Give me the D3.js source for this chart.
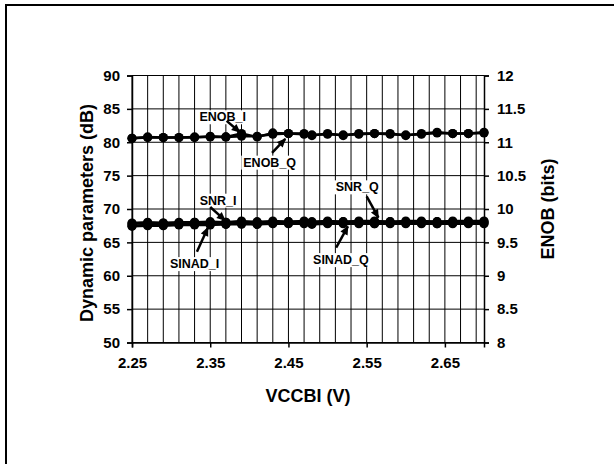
<!DOCTYPE html>
<html>
<head>
<meta charset="utf-8">
<script src="https://cdn.jsdelivr.net/npm/d3@7"></script>
<style>
  body { margin: 0; background: #fff; }
  text { font-family: Arial, "Liberation Sans", sans-serif; font-weight: bold; fill: #000; }
</style>
</head>
<body>
<div id="chart"></div>
<script>
// VCCBI sweep (V)
const vccbi = [2.25, 2.27, 2.29, 2.31, 2.33, 2.35, 2.37, 2.39, 2.41, 2.43, 2.45, 2.47,
               2.48, 2.50, 2.52, 2.54, 2.56, 2.58, 2.60, 2.62, 2.64, 2.66, 2.68, 2.70];

// dB series (left axis)
const snrI   = [67.9, 68.0, 67.9, 68.0, 68.0, 68.1, 68.0, 68.2, 68.0, 68.2, 68.1, 68.2,
                68.1, 68.2, 68.1, 68.2, 68.2, 68.1, 68.2, 68.2, 68.1, 68.2, 68.2, 68.2];
const sinadI = [67.5, 67.6, 67.6, 67.7, 67.7, 67.8, 67.7, 67.9, 67.7, 67.9, 67.9, 67.9,
                67.8, 67.9, 67.9, 67.9, 67.8, 67.9, 67.9, 67.9, 67.8, 67.9, 67.9, 67.9];
const snrQ   = [67.8, 67.9, 67.9, 67.9, 68.0, 68.0, 68.0, 68.0, 68.1, 68.0, 68.1, 68.1,
                68.0, 68.1, 68.1, 68.1, 68.1, 68.1, 68.0, 68.1, 68.1, 68.1, 68.1, 68.1];
const sinadQ = [67.4, 67.5, 67.5, 67.6, 67.6, 67.6, 67.7, 67.7, 67.7, 67.8, 67.8, 67.8,
                67.7, 67.8, 67.8, 67.8, 67.8, 67.8, 67.8, 67.8, 67.8, 67.8, 67.8, 67.8];

// ENOB series (right axis, bits)
const enobI  = [11.06, 11.08, 11.07, 11.07, 11.07, 11.09, 11.08, 11.13, 11.08, 11.14, 11.13, 11.13,
                11.10, 11.13, 11.10, 11.13, 11.13, 11.13, 11.10, 11.13, 11.15, 11.13, 11.13, 11.15];
const enobQ  = [11.06, 11.07, 11.07, 11.07, 11.08, 11.08, 11.08, 11.09, 11.09, 11.12, 11.13, 11.12,
                11.11, 11.12, 11.11, 11.12, 11.13, 11.12, 11.11, 11.12, 11.14, 11.13, 11.13, 11.14];

const xTicks = [2.25, 2.35, 2.45, 2.55, 2.65];
const yLeftTicks = [50, 55, 60, 65, 70, 75, 80, 85, 90];
const yRightTicks = [8, 8.5, 9, 9.5, 10, 10.5, 11, 11.5, 12];

// annotation labels: text position and arrow (in data units, left axis)
const labels = [
  { text: 'ENOB_I',  tx: 2.366, ty: 83.8, x1: 2.371, y1: 83.2, x2: 2.388, y2: 81.5 },
  { text: 'ENOB_Q',  tx: 2.426, ty: 77.0, x1: 2.429, y1: 78.4, x2: 2.446, y2: 80.5 },
  { text: 'SNR_I',   tx: 2.360, ty: 71.3, x1: 2.350, y1: 70.3, x2: 2.369, y2: 68.3 },
  { text: 'SINAD_I', tx: 2.330, ty: 61.8, x1: 2.333, y1: 63.6, x2: 2.347, y2: 67.2 },
  { text: 'SNR_Q',   tx: 2.538, ty: 73.3, x1: 2.550, y1: 71.9, x2: 2.565, y2: 68.7 },
  { text: 'SINAD_Q', tx: 2.517, ty: 62.4, x1: 2.511, y1: 64.2, x2: 2.526, y2: 67.4 }
];

const width = 614, height = 464;
const svg = d3.select('#chart').append('svg')
    .attr('width', width)
    .attr('height', height);

// outer frame (only top and left are visible)
svg.append('path')
    .attr('d', `M6,${height} L6,5 L${width},5`)
    .attr('fill', 'none')
    .attr('stroke', '#000')
    .attr('stroke-width', 2);

// title, sitting above the visible area (only descenders show)
svg.append('text')
    .attr('x', 320)
    .attr('y', -3.5)
    .attr('text-anchor', 'middle')
    .style('font-size', '15px')
    .text('Dynamic Range vs Analog Supply VCCBI (V)');

const x = d3.scaleLinear().domain([2.25, 2.70]).range([132, 484]);
const yL = d3.scaleLinear().domain([50, 90]).range([342.5, 75.5]);
const yR = d3.scaleLinear().domain([8, 12]).range([342.5, 75.5]);

const g = svg.append('g');

// vertical grid every 0.02 V
const vGrid = d3.range(0, 23).map(i => 2.25 + i * 0.02);
g.selectAll('.vgrid')
    .data(vGrid)
    .enter().append('line')
    .attr('class', 'vgrid')
    .attr('x1', d => x(d)).attr('x2', d => x(d))
    .attr('y1', yL(90)).attr('y2', yL(50))
    .attr('stroke', '#000')
    .attr('stroke-width', 1);

// horizontal grid
g.selectAll('.hgrid')
    .data(yLeftTicks)
    .enter().append('line')
    .attr('class', 'hgrid')
    .attr('x1', x(2.25)).attr('x2', x(2.70))
    .attr('y1', d => yL(d)).attr('y2', d => yL(d))
    .attr('stroke', '#000')
    .attr('stroke-width', 1);

// axes
const tickFont = '15px';
const xAxis = g.append('g')
    .attr('transform', `translate(0,${yL(50)})`)
    .call(d3.axisBottom(x).tickValues(xTicks).tickFormat(d3.format('.2f')).tickSize(5).tickPadding(10));
const leftAxis = g.append('g')
    .attr('transform', `translate(${x(2.25)},0)`)
    .call(d3.axisLeft(yL).tickValues(yLeftTicks).tickSize(5).tickPadding(7));
const rightAxis = g.append('g')
    .attr('transform', `translate(${x(2.70)},0)`)
    .call(d3.axisRight(yR).tickValues(yRightTicks).tickFormat(d => d).tickSize(5).tickPadding(8));

[xAxis, leftAxis, rightAxis].forEach(a => {
    a.select('.domain').attr('stroke', '#000').attr('stroke-width', 1.5);
    a.selectAll('.tick line').attr('stroke', '#000').attr('stroke-width', 1.5);
    a.selectAll('.tick text')
        .attr('fill', '#000')
        .style('font-family', 'Arial, "Liberation Sans", sans-serif')
        .style('font-weight', 'bold')
        .style('font-size', tickFont);
});

// axis titles
svg.append('text')
    .attr('transform', `translate(87,${(yL(50) + yL(90)) / 2 + 4}) rotate(-90)`)
    .attr('text-anchor', 'middle')
    .attr('dy', '0.35em')
    .style('font-size', '18px')
    .text('Dynamic parameters (dB)');

svg.append('text')
    .attr('transform', `translate(548,${(yL(50) + yL(90)) / 2}) rotate(-90)`)
    .attr('text-anchor', 'middle')
    .attr('dy', '0.35em')
    .style('font-size', '18px')
    .text('ENOB (bits)');

svg.append('text')
    .attr('x', 308)
    .attr('y', 402)
    .attr('text-anchor', 'middle')
    .style('font-size', '18px')
    .text('VCCBI (V)');

// series
const series = [
    { values: sinadQ, scale: yL },
    { values: snrQ, scale: yL },
    { values: sinadI, scale: yL },
    { values: snrI, scale: yL },
    { values: enobQ, scale: yR },
    { values: enobI, scale: yR }
];

series.forEach(s => {
    const pts = vccbi.map((v, i) => [v, s.values[i]]);
    const line = d3.line().x(d => x(d[0])).y(d => s.scale(d[1]));
    g.append('path')
        .datum(pts)
        .attr('d', line)
        .attr('fill', 'none')
        .attr('stroke', '#000')
        .attr('stroke-width', 2.5);
    g.selectAll(null)
        .data(pts)
        .enter().append('circle')
        .attr('cx', d => x(d[0]))
        .attr('cy', d => s.scale(d[1]))
        .attr('r', 4.6)
        .attr('fill', '#000');
});

// arrow marker
svg.append('defs').append('marker')
    .attr('id', 'arrowhead')
    .attr('viewBox', '0 -5 10 10')
    .attr('refX', 9)
    .attr('refY', 0)
    .attr('orient', 'auto')
    .attr('markerUnits', 'userSpaceOnUse')
    .attr('markerWidth', 10)
    .attr('markerHeight', 9)
    .append('path')
    .attr('d', 'M0,-4.5 L10,0 L0,4.5 Z')
    .attr('fill', '#000');

// annotations
labels.forEach(l => {
    const t = g.append('text')
        .attr('x', x(l.tx))
        .attr('y', yL(l.ty))
        .attr('dy', '0.35em')
        .attr('text-anchor', 'middle')
        .style('font-size', '12.5px')
        .text(l.text);
    const bb = t.node().getBBox();
    g.insert('rect', () => t.node())
        .attr('x', bb.x - 2).attr('y', bb.y)
        .attr('width', bb.width + 4).attr('height', bb.height)
        .attr('fill', '#fff');
    g.append('line')
        .attr('x1', x(l.x1)).attr('y1', yL(l.y1))
        .attr('x2', x(l.x2)).attr('y2', yL(l.y2))
        .attr('stroke', '#000')
        .attr('stroke-width', 2.5)
        .attr('marker-end', 'url(#arrowhead)');
});
</script>
</body>
</html>
